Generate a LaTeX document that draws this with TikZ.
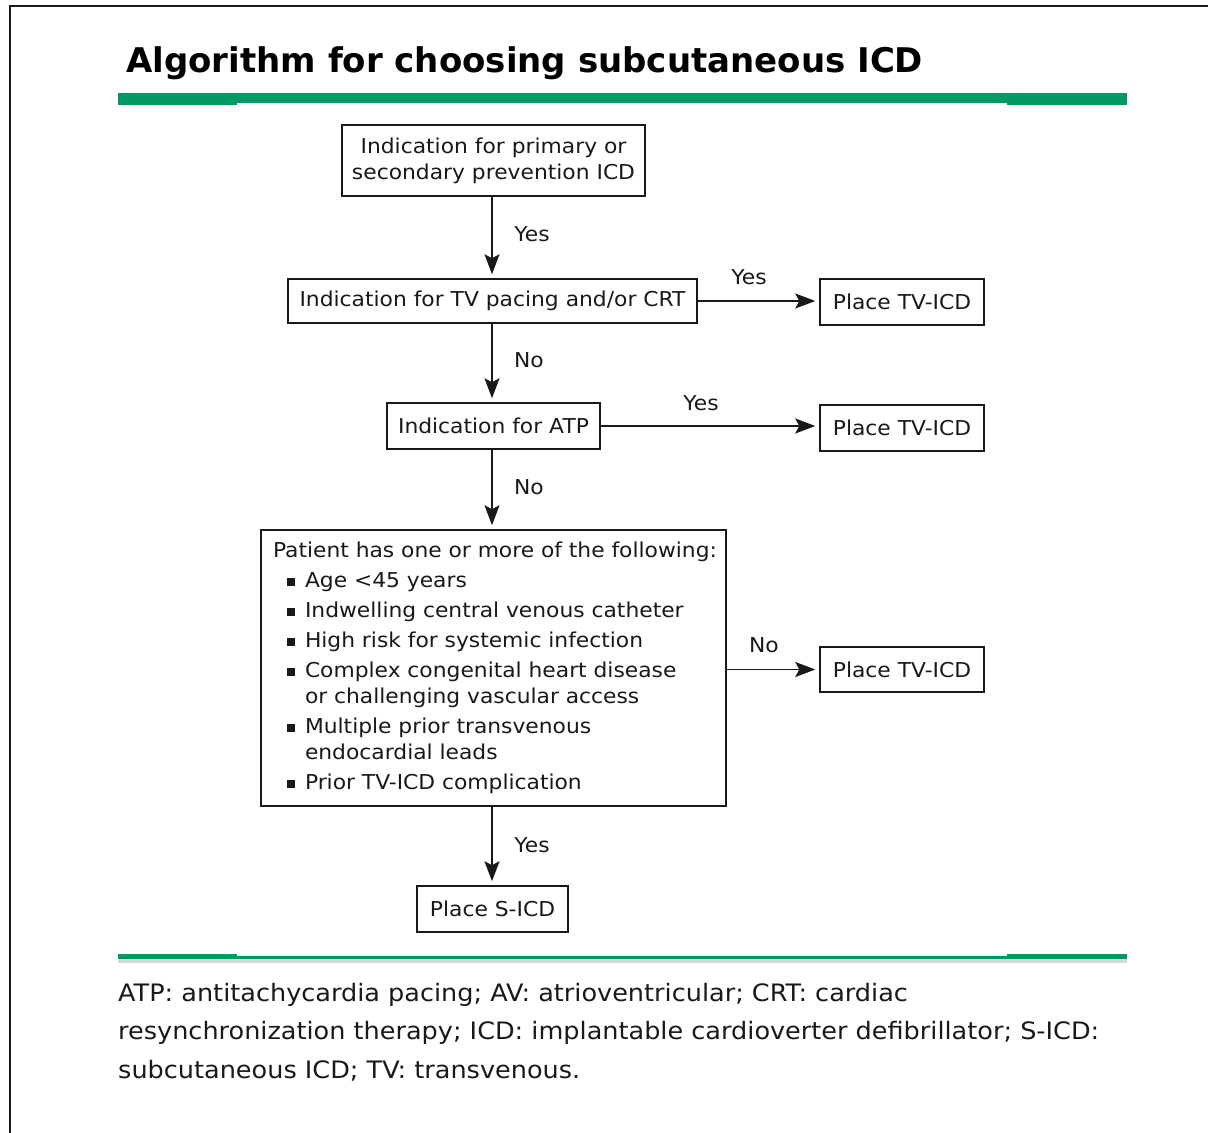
\documentclass[tikz,border=0pt]{standalone}
\usepackage{fontspec}
\setmainfont{DejaVu Sans}
\newfontfamily\wfont[FakeStretch=1.064]{DejaVu Sans}
\usetikzlibrary{arrows.meta}
\definecolor{uptgreen}{RGB}{0,153,102}
\definecolor{shadowgray}{RGB}{215,215,215}
\definecolor{inkc}{RGB}{25,25,25}
\newcommand{\bulsq}{\makebox[32pt][l]{\hspace{13.5pt}\raisebox{2pt}{\rule{8pt}{8pt}}}}
\newcommand{\indsp}{\hspace*{32pt}}
\begin{document}
\begin{tikzpicture}[x=1pt,y=-1pt,
  box/.style={draw=inkc, line width=1.5pt, text=inkc, inner sep=0pt, align=center,
    font=\wfont\fontsize{20.5}{26}\selectfont},
  lbl/.style={text=inkc, inner sep=0pt, font=\wfont\fontsize{20.5}{24}\selectfont},
  arr/.style={draw=inkc, line width=1.6pt, -{Stealth[length=20pt,width=15pt,inset=4pt]}, shorten >=4pt}
]
\useasboundingbox (0,0) rectangle (1208,1133);
\fill[white] (0,0) rectangle (1208,1133);
% frame
\draw[line width=2pt, inkc] (10,1133) -- (10,6) -- (1208,6);
% title
\node[anchor=base west, inner sep=0pt, font=\fontsize{34}{40}\selectfont\bfseries, text=black] (title) at (126,72) {Algorithm for choosing subcutaneous ICD};
% green bars
\fill[uptgreen] (118,93) rectangle (1127,103);
\fill[uptgreen] (118,103) rectangle (237,105);
\fill[uptgreen] (1007,103) rectangle (1127,105);
\fill[shadowgray] (118,959) rectangle (1127,963);
\fill[uptgreen] (118,955.5) rectangle (1127,959);
\fill[uptgreen] (118,954) rectangle (237,959);
\fill[uptgreen] (1007,954) rectangle (1127,959);
% nodes
\node[box, minimum width=303pt, minimum height=71pt] (n1) at (493.5,160.5) {Indication for primary or\\secondary prevention ICD};
\node[box, minimum width=409pt, minimum height=44pt] (n2) at (492.5,301) {Indication for TV pacing and/or CRT};
\node[box, minimum width=164pt, minimum height=46pt] (t1) at (902,302) {Place TV-ICD};
\node[box, minimum width=213pt, minimum height=46pt] (n3) at (493.5,426) {Indication for ATP};
\node[box, minimum width=164pt, minimum height=46pt] (t2) at (902,428) {Place TV-ICD};
\node[box, minimum width=465pt, minimum height=276pt, align=left, text width=441pt, inner xsep=12pt] (n4) at (493.5,668) {\mbox{Patient has one or more of the following:}\\[4pt]
\bulsq Age <45 years\\[4pt]
\bulsq Indwelling central venous catheter\\[4pt]
\bulsq High risk for systemic infection\\[4pt]
\bulsq Complex congenital heart disease\\
\indsp or challenging vascular access\\[4pt]
\bulsq Multiple prior transvenous\\
\indsp endocardial leads\\[4pt]
\bulsq Prior TV-ICD complication};
\node[box, minimum width=164pt, minimum height=45pt] (t3) at (902,669.5) {Place TV-ICD};
\node[box, minimum width=151pt, minimum height=46pt] (s) at (492.5,909) {Place S-ICD};
% connectors
\draw[arr] (n1.south -| 492,0) -- (n2.north -| 492,0);
\draw[arr] (n2.south -| 492,0) -- (n3.north -| 492,0);
\draw[arr] (n3.south -| 492,0) -- (n4.north -| 492,0);
\draw[arr] (n4.south -| 492,0) -- (s.north -| 492,0);
\draw[arr] (n2.east) -- (n2.east -| t1.west);
\draw[arr] (n3.east) -- (n3.east -| t2.west);
\draw[arr] (n4.east |- t3.west) -- (t3.west);
% labels
\node[lbl] (l1) at (532,234) {Yes};
\node[lbl] (l2) at (749,277) {Yes};
\node[lbl] (l3) at (529,360) {No};
\node[lbl] (l4) at (701,403) {Yes};
\node[lbl] (l5) at (529,487) {No};
\node[lbl] (l6) at (764,645) {No};
\node[lbl] (l7) at (532,845) {Yes};
% footnote
\node[anchor=north west, inner sep=0pt, align=left, text=inkc, font=\wfont\fontsize{24}{38.5}\selectfont] (foot) at (118,983) {ATP: antitachycardia pacing; AV: atrioventricular; CRT: cardiac\\resynchronization therapy; ICD: implantable cardioverter defibrillator; S-ICD:\\subcutaneous ICD; TV: transvenous.};
\end{tikzpicture}
\end{document}
